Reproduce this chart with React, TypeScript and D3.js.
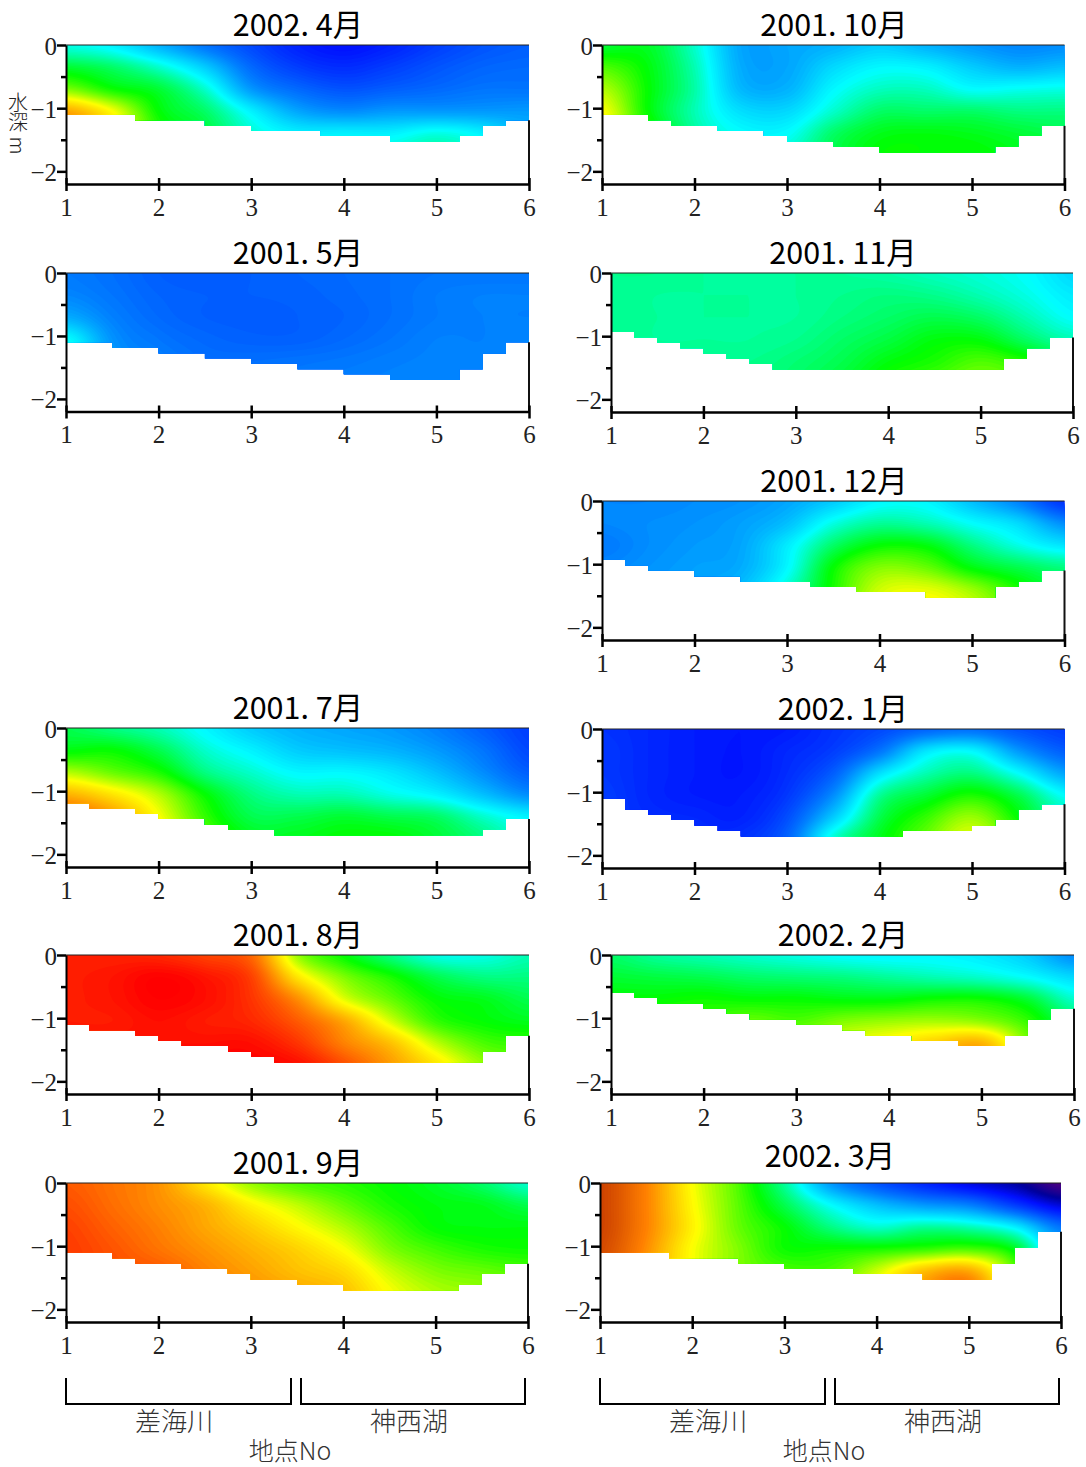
import React, { useEffect, useRef } from 'react';
import * as d3 from 'd3';

// grid positions of the read values
const stations = [1, 1.5, 2, 2.5, 3, 3.5, 4, 4.5, 5, 5.5, 6];
const depths = [0, 0.35, 0.7, 1.05, 1.4, 1.75];
const xTicks = [1, 2, 3, 4, 5, 6];
const yTicks = [0, -0.5, -1, -1.5, -2];

// colour level: 1 blue, 3 cyan, 4 green, 5 yellow, 7 red
const apr2002 = [
  [3.1, 2.9, 2.4, 1.9, 1.5, 1.15, 1.0, 1.15, 1.4, 1.6, 1.7],
  [3.8, 3.6, 3.2, 2.6, 1.8, 1.4, 1.25, 1.4, 1.6, 1.75, 1.8],
  [4.5, 4.05, 3.8, 3.2, 2.2, 1.8, 1.6, 1.7, 1.8, 1.9, 1.9],
  [5.7, 5.0, 4.0, 3.6, 2.9, 2.3, 2.1, 2.2, 2.2, 2.2, 2.2],
  [6.3, 5.3, 4.2, 3.8, 3.2, 2.9, 2.9, 2.9, 3.1, 2.9, 2.4],
  [6.5, 5.5, 4.4, 3.9, 3.4, 3.1, 3.1, 3.2, 3.4, 3.1, 2.5],
];
const may2001 = [
  [1.95, 1.85, 1.7, 1.65, 1.7, 1.75, 1.8, 1.85, 1.9, 1.9, 1.9],
  [2.05, 1.9, 1.75, 1.7, 1.7, 1.72, 1.78, 1.85, 1.95, 2.0, 2.0],
  [2.35, 2.0, 1.8, 1.7, 1.68, 1.7, 1.75, 1.85, 1.95, 2.0, 2.0],
  [3.0, 2.15, 1.9, 1.78, 1.72, 1.72, 1.8, 1.9, 2.0, 2.0, 2.05],
  [3.2, 2.25, 2.0, 1.85, 1.85, 1.88, 1.92, 1.98, 2.02, 2.02, 2.05],
  [3.2, 2.3, 2.0, 1.9, 1.9, 1.92, 1.98, 2.02, 2.05, 2.05, 2.05],
];
const jul2001 = [
  [3.7, 3.5, 3.3, 2.95, 2.6, 2.4, 2.3, 2.2, 2.0, 1.7, 1.4],
  [3.95, 4.0, 3.7, 3.2, 2.9, 2.6, 2.5, 2.4, 2.2, 1.9, 1.5],
  [4.7, 4.4, 4.1, 3.5, 3.2, 2.95, 2.95, 2.8, 2.5, 2.1, 1.7],
  [5.6, 5.2, 4.7, 4.0, 3.5, 3.3, 3.3, 3.1, 2.9, 2.5, 2.1],
  [6.3, 5.8, 5.0, 4.2, 3.7, 3.7, 3.8, 3.7, 3.6, 3.2, 2.9],
  [6.5, 6.0, 5.2, 4.4, 3.9, 3.9, 4.0, 4.0, 3.8, 3.5, 3.1],
];
const aug2001 = [
  [6.75, 6.75, 6.7, 6.5, 6.2, 4.6, 4.0, 3.5, 3.1, 3.1, 3.3],
  [6.78, 6.85, 7.0, 6.85, 6.5, 5.2, 4.5, 4.1, 3.7, 3.5, 3.5],
  [6.78, 6.85, 7.0, 6.9, 6.6, 5.9, 4.9, 4.4, 4.0, 3.9, 3.7],
  [6.8, 6.8, 6.9, 6.8, 6.7, 6.3, 5.7, 4.85, 4.2, 4.0, 3.9],
  [6.85, 6.9, 6.9, 6.9, 6.9, 6.6, 6.0, 5.5, 4.75, 4.3, 4.2],
  [6.9, 7.0, 7.0, 7.0, 7.0, 6.9, 6.4, 5.8, 5.2, 4.6, 4.4],
];
const sep2001 = [
  [6.3, 6.1, 5.85, 5.2, 4.6, 4.3, 4.15, 4.0, 3.85, 3.6, 3.2],
  [6.4, 6.15, 5.9, 5.6, 5.1, 4.75, 4.4, 4.1, 3.95, 3.9, 3.7],
  [6.5, 6.25, 6.0, 5.7, 5.4, 5.05, 4.7, 4.3, 4.0, 3.95, 3.95],
  [6.55, 6.35, 6.1, 5.85, 5.6, 5.35, 5.0, 4.5, 4.25, 4.1, 4.05],
  [6.55, 6.4, 6.3, 6.0, 5.75, 5.5, 5.3, 4.8, 4.5, 4.4, 4.3],
  [6.55, 6.4, 6.3, 6.1, 5.9, 5.7, 5.5, 5.0, 4.7, 4.6, 4.5],
];
const oct2001 = [
  [3.8, 3.85, 3.2, 2.3, 2.3, 2.4, 2.6, 2.4, 2.2, 2.05, 2.1],
  [4.3, 3.95, 3.3, 2.35, 2.3, 2.7, 2.95, 2.9, 2.6, 2.4, 2.5],
  [4.7, 4.0, 3.35, 2.45, 2.4, 2.95, 3.25, 3.25, 3.0, 3.05, 3.1],
  [5.0, 4.0, 3.3, 2.75, 2.7, 3.2, 3.6, 3.6, 3.6, 3.5, 3.5],
  [5.2, 4.2, 3.4, 3.0, 3.0, 3.6, 3.9, 3.95, 3.9, 3.8, 3.7],
  [5.2, 4.2, 3.5, 3.1, 3.2, 3.7, 4.0, 4.0, 4.0, 3.9, 3.8],
];
const nov2001 = [
  [3.45, 3.45, 3.4, 3.4, 3.4, 3.4, 3.35, 3.25, 3.15, 3.0, 2.7],
  [3.45, 3.4, 3.4, 3.4, 3.4, 3.45, 3.5, 3.45, 3.3, 3.1, 2.85],
  [3.45, 3.4, 3.4, 3.4, 3.4, 3.5, 3.6, 3.7, 3.6, 3.3, 3.0],
  [3.45, 3.4, 3.4, 3.4, 3.45, 3.6, 3.75, 3.95, 3.95, 3.6, 3.3],
  [3.5, 3.45, 3.45, 3.45, 3.55, 3.7, 3.95, 4.1, 4.3, 4.1, 3.7],
  [3.5, 3.5, 3.5, 3.5, 3.6, 3.8, 4.1, 4.3, 4.5, 4.3, 3.9],
];
const dec2001 = [
  [2.05, 2.05, 2.1, 2.15, 2.3, 2.6, 2.95, 2.95, 2.5, 2.0, 1.3],
  [2.05, 2.1, 2.15, 2.25, 2.5, 3.1, 3.4, 3.3, 3.0, 2.7, 2.1],
  [1.95, 2.1, 2.2, 2.3, 2.85, 3.6, 4.0, 3.95, 3.5, 3.1, 2.8],
  [2.05, 2.15, 2.25, 2.35, 2.95, 4.0, 4.5, 4.4, 3.95, 3.7, 3.5],
  [2.1, 2.2, 2.3, 2.5, 3.2, 4.1, 4.8, 4.9, 4.6, 4.1, 3.7],
  [2.1, 2.2, 2.4, 2.6, 3.3, 4.3, 4.9, 5.1, 4.8, 4.2, 3.8],
];
const jan2002 = [
  [1.3, 1.2, 1.1, 1.05, 1.1, 1.3, 1.5, 1.75, 1.85, 1.6, 1.4],
  [1.35, 1.2, 1.1, 1.05, 1.2, 1.4, 1.9, 2.8, 2.95, 2.2, 1.7],
  [1.35, 1.2, 1.1, 1.05, 1.25, 1.7, 2.75, 3.3, 3.5, 3.0, 2.3],
  [1.4, 1.2, 1.1, 1.1, 1.35, 2.1, 3.4, 3.8, 4.1, 3.7, 3.0],
  [1.4, 1.25, 1.2, 1.15, 1.55, 2.6, 3.7, 4.2, 4.6, 4.0, 3.3],
  [1.4, 1.3, 1.25, 1.3, 1.75, 3.2, 3.9, 4.4, 4.9, 4.2, 3.4],
];
const feb2002 = [
  [3.6, 3.4, 3.3, 3.2, 3.1, 3.0, 2.95, 2.95, 2.85, 2.6, 2.1],
  [3.8, 3.75, 3.7, 3.6, 3.55, 3.5, 3.4, 3.3, 3.2, 3.0, 2.7],
  [4.0, 4.0, 4.05, 4.0, 4.0, 3.95, 3.95, 4.05, 4.05, 3.8, 3.2],
  [4.2, 4.2, 4.2, 4.4, 4.3, 4.5, 4.6, 4.65, 4.55, 4.2, 3.6],
  [4.4, 4.4, 4.4, 4.6, 4.6, 4.9, 5.1, 5.4, 5.6, 4.5, 3.8],
  [4.4, 4.4, 4.4, 4.6, 4.7, 5.0, 5.2, 5.6, 5.8, 4.6, 3.9],
];
const mar2002 = [
  [6.9, 6.0, 5.0, 4.3, 3.4, 2.2, 1.6, 1.2, 0.85, 0.55, 0.0],
  [6.9, 6.0, 5.05, 4.35, 3.7, 3.0, 2.5, 2.2, 2.0, 1.4, 0.8],
  [6.9, 6.0, 5.1, 4.4, 4.0, 3.5, 3.2, 3.4, 3.3, 2.9, 1.9],
  [6.8, 5.9, 5.0, 4.5, 4.05, 4.05, 4.1, 4.2, 4.3, 3.9, 2.4],
  [6.7, 5.8, 5.0, 4.5, 4.3, 4.3, 4.8, 5.5, 5.7, 4.4, 2.6],
  [6.6, 5.7, 5.0, 4.5, 4.4, 4.5, 5.0, 5.8, 6.2, 4.5, 2.7],
];

// water depth in each quarter-station bin
const bedApr2002 = [1.1, 1.1, 1.1, 1.19, 1.19, 1.19, 1.28, 1.28, 1.36, 1.36, 1.36, 1.44, 1.44, 1.44, 1.53, 1.53, 1.53, 1.44, 1.28, 1.19];
const bedMay2001 = [1.1, 1.1, 1.19, 1.19, 1.28, 1.28, 1.36, 1.36, 1.44, 1.44, 1.53, 1.53, 1.61, 1.61, 1.7, 1.7, 1.7, 1.53, 1.28, 1.1];
const bedJul2001 = [1.19, 1.28, 1.28, 1.36, 1.44, 1.44, 1.53, 1.61, 1.61, 1.7, 1.7, 1.7, 1.7, 1.7, 1.7, 1.7, 1.7, 1.7, 1.61, 1.44];
const bedAug2001 = [1.1, 1.19, 1.19, 1.28, 1.36, 1.44, 1.44, 1.53, 1.61, 1.7, 1.7, 1.7, 1.7, 1.7, 1.7, 1.7, 1.7, 1.7, 1.53, 1.28];
const bedSep2001 = [1.1, 1.1, 1.19, 1.28, 1.28, 1.36, 1.36, 1.44, 1.53, 1.53, 1.61, 1.61, 1.7, 1.7, 1.7, 1.7, 1.7, 1.61, 1.44, 1.28];
const bedOct2001 = [1.1, 1.1, 1.19, 1.28, 1.28, 1.36, 1.36, 1.44, 1.53, 1.53, 1.61, 1.61, 1.7, 1.7, 1.7, 1.7, 1.7, 1.61, 1.44, 1.28];
const bedNov2001 = [0.93, 1.02, 1.1, 1.19, 1.28, 1.36, 1.44, 1.53, 1.53, 1.53, 1.53, 1.53, 1.53, 1.53, 1.53, 1.53, 1.53, 1.36, 1.19, 1.02];
const bedDec2001 = [0.93, 1.02, 1.1, 1.1, 1.19, 1.19, 1.28, 1.28, 1.28, 1.36, 1.36, 1.44, 1.44, 1.44, 1.53, 1.53, 1.53, 1.36, 1.28, 1.1];
const bedJan2002 = [1.1, 1.28, 1.36, 1.44, 1.53, 1.61, 1.7, 1.7, 1.7, 1.7, 1.7, 1.7, 1.7, 1.61, 1.61, 1.61, 1.53, 1.44, 1.28, 1.19];
const bedFeb2002 = [0.6, 0.68, 0.77, 0.77, 0.85, 0.93, 1.02, 1.02, 1.1, 1.1, 1.19, 1.28, 1.28, 1.36, 1.36, 1.44, 1.44, 1.28, 1.02, 0.85];
const bedMar2002 = [1.1, 1.1, 1.1, 1.19, 1.19, 1.19, 1.28, 1.28, 1.36, 1.36, 1.36, 1.44, 1.44, 1.44, 1.53, 1.53, 1.53, 1.28, 1.02, 0.77];

const levelDomain = [0, 0.5, 1, 2, 3, 4, 5, 6, 7];
const levelColors = ['#4b0082', '#00009a', '#0010ff', '#0080ff', '#00ffff', '#00ff00', '#ffff00', '#ff8000', '#ff0000'];
// March tops out in a dark orange, it never passes through the pure red
const marchColors = ['#4b0082', '#00009a', '#0010ff', '#0080ff', '#00ffff', '#00ff00', '#ffff00', '#ff8000', '#c83c00'];

const panels = [
  { title: '2002. 4月', grid: apr2002, bed: bedApr2002, xL: 66, xR: 529, y0: 45, yB: 184, tx: 298, ty: 36 },
  { title: '2001. 5月', grid: may2001, bed: bedMay2001, xL: 66, xR: 529, y0: 273, yB: 411.5, tx: 298, ty: 264 },
  { title: '2001. 7月', grid: jul2001, bed: bedJul2001, xL: 66, xR: 529, y0: 728, yB: 867, tx: 298, ty: 719 },
  { title: '2001. 8月', grid: aug2001, bed: bedAug2001, xL: 66, xR: 529, y0: 955, yB: 1094, tx: 298, ty: 946 },
  { title: '2001. 9月', grid: sep2001, bed: bedSep2001, xL: 66, xR: 528, y0: 1183, yB: 1322, tx: 298, ty: 1174 },
  { title: '2001. 10月', grid: oct2001, bed: bedOct2001, xL: 602, xR: 1064.5, y0: 45, yB: 184, tx: 834, ty: 36 },
  { title: '2001. 11月', grid: nov2001, bed: bedNov2001, xL: 611, xR: 1073, y0: 273, yB: 412, tx: 843, ty: 264 },
  { title: '2001. 12月', grid: dec2001, bed: bedDec2001, xL: 602, xR: 1064.5, y0: 501, yB: 640, tx: 834, ty: 492 },
  { title: '2002. 1月', grid: jan2002, bed: bedJan2002, xL: 602, xR: 1064.5, y0: 729, yB: 868, tx: 843, ty: 720 },
  { title: '2002. 2月', grid: feb2002, bed: bedFeb2002, xL: 611, xR: 1074, y0: 955, yB: 1094, tx: 843, ty: 946 },
  { title: '2002. 3月', grid: mar2002, bed: bedMar2002, xL: 600, xR: 1061, y0: 1183, yB: 1322, tx: 830, ty: 1167, colors: marchColors },
];

const brackets = [
  { label: '差海川', x0: 66, x1: 291, tx: 174 },
  { label: '神西湖', x0: 301, x1: 525, tx: 409 },
  { label: '差海川', x0: 600, x1: 825, tx: 708 },
  { label: '神西湖', x0: 835, x1: 1059, tx: 943 },
];
const xTitles = [290, 824];

const SERIF = '"Liberation Serif", serif';
const CJK = '"Noto Sans CJK JP", sans-serif';

const catmull = (a: number, b: number, c: number, d: number, t: number) =>
  0.5 * (2 * b + (c - a) * t + (2 * a - 5 * b + 4 * c - d) * t * t + (3 * b - a - 3 * c + d) * t * t * t);

// smooth read of the value grid, u = column index, v = row index
const sampleGrid = (grid: number[][], u: number, v: number) => {
  const iu = Math.min(Math.floor(u), grid[0].length - 2);
  const iv = Math.min(Math.floor(v), grid.length - 2);
  const row = (r: number) => {
    const vals = grid[Math.max(0, Math.min(grid.length - 1, r))];
    const at = (c: number) => vals[Math.max(0, Math.min(vals.length - 1, c))];
    return catmull(at(iu - 1), at(iu), at(iu + 1), at(iu + 2), u - iu);
  };
  return catmull(row(iv - 1), row(iv), row(iv + 1), row(iv + 2), v - iv);
};

const App = () => {
  const ref = useRef<SVGSVGElement>(null);

  useEffect(() => {
    const svg = d3.select(ref.current);
    svg.selectAll('*').remove();

    panels.forEach((p, idx) => {
      const color = d3.scaleLinear<string>().domain(levelDomain).range(p.colors || levelColors).clamp(true);
      const x = d3.scaleLinear().domain([1, 6]).range([p.xL, p.xR]);
      const y = d3.scaleLinear().domain([0, -2.2]).range([p.y0, p.yB]);
      const g = svg.append('g');

      // water section outline from the bed bins
      const edges = p.bed.map((d, i) => ({ s: 1 + i * 0.25, d }));
      edges.push({ s: 6, d: p.bed[p.bed.length - 1] });
      const outline = d3.area<{ s: number; d: number }>()
        .x(d => x(d.s))
        .y0(y(0))
        .y1(d => y(-d.d))
        .curve(d3.curveStepAfter);
      const clipId = `water-${idx}`;
      g.append('clipPath').attr('id', clipId).append('path').attr('d', outline(edges));

      // fine field for the filled contours
      const nx = 150;
      const ny = 56;
      const uScale = d3.scaleLinear().domain([0, nx - 1]).range([0, stations.length - 1]);
      const vScale = d3.scaleLinear().domain([0, ny - 1]).range([0, depths.length - 1]);
      const field: number[] = [];
      for (let j = 0; j < ny; j++) {
        for (let i = 0; i < nx; i++) field.push(sampleGrid(p.grid, uScale(i), vScale(j)));
      }
      const step = 0.05;
      const lo = Math.floor((d3.min(field) as number) / step) * step;
      const hi = d3.max(field) as number;
      const contours = d3.contours().size([nx, ny]).smooth(true).thresholds(d3.range(lo, hi, step))(field);
      const gx = d3.scaleLinear().domain([0.5, nx - 0.5]).range([x(1), x(6)]);
      const gy = d3.scaleLinear().domain([0.5, ny - 0.5]).range([y(0), y(-depths[depths.length - 1])]);
      const path = d3.geoPath(d3.geoTransform({
        point(px: number, py: number) {
          this.stream.point(gx(px), gy(py));
        },
      }));
      g.append('g')
        .attr('clip-path', `url(#${clipId})`)
        .selectAll('path')
        .data(contours)
        .enter().append('path')
        .attr('d', path as any)
        .attr('fill', d => color(d.value + step / 2));

      // surface line and right bank
      g.append('line')
        .attr('x1', x(1)).attr('x2', x(6)).attr('y1', y(0)).attr('y2', y(0))
        .attr('stroke', '#222').attr('stroke-width', 1);
      g.append('line')
        .attr('x1', x(6)).attr('x2', x(6)).attr('y1', y(-p.bed[p.bed.length - 1])).attr('y2', p.yB)
        .attr('stroke', '#111').attr('stroke-width', 2);

      const yAxis = g.append('g')
        .attr('transform', `translate(${p.xL},0)`)
        .call(d3.axisLeft(y).tickValues(yTicks).tickSize(9).tickSizeOuter(0).tickPadding(0)
          .tickFormat(d => (Number.isInteger(+d) ? (+d < 0 ? `\u2212${-d}` : `${d}`) : '')));
      yAxis.attr('font-family', SERIF).attr('font-size', 25);
      yAxis.select('.domain').attr('stroke', '#000').attr('stroke-width', 2);
      yAxis.selectAll('.tick line')
        .attr('stroke', '#000').attr('stroke-width', 2.5)
        .attr('x2', d => (Number.isInteger(d as number) ? -9 : -5));
      yAxis.selectAll('.tick text').attr('fill', '#222').attr('dy', '0.36em');

      const xAxis = g.append('g')
        .attr('transform', `translate(0,${p.yB})`)
        .call(d3.axisBottom(x).tickValues(xTicks).tickSize(7).tickSizeOuter(0).tickPadding(7).tickFormat(d3.format('d')));
      xAxis.attr('font-family', SERIF).attr('font-size', 25);
      xAxis.select('.domain').attr('stroke', '#000').attr('stroke-width', 2.5);
      xAxis.selectAll('.tick line').attr('stroke', '#000').attr('stroke-width', 2.5).attr('y1', -6);
      xAxis.selectAll('.tick text').attr('fill', '#222');

      g.append('text')
        .attr('x', p.tx).attr('y', p.ty)
        .attr('text-anchor', 'middle')
        .attr('font-family', CJK).attr('font-size', 30.5).attr('fill', '#000')
        .text(p.title);
    });

    // station groups
    brackets.forEach(b => {
      svg.append('path')
        .attr('d', d3.line()([[b.x0, 1378], [b.x0, 1404], [b.x1, 1404], [b.x1, 1378]]))
        .attr('fill', 'none').attr('stroke', '#000').attr('stroke-width', 2);
      svg.append('text')
        .attr('x', b.tx).attr('y', 1431)
        .attr('text-anchor', 'middle')
        .attr('font-family', CJK).attr('font-size', 26).attr('font-weight', 300).attr('fill', '#333')
        .text(b.label);
    });
    xTitles.forEach(tx => {
      svg.append('text')
        .attr('x', tx).attr('y', 1460)
        .attr('text-anchor', 'middle')
        .attr('font-family', CJK).attr('font-size', 25).attr('font-weight', 300).attr('fill', '#333')
        .text('地点No');
    });

    svg.append('text')
      .attr('x', 18).attr('y', 92)
      .attr('font-family', CJK).attr('font-size', 20).attr('font-weight', 300).attr('fill', '#222')
      .style('writing-mode', 'vertical-rl')
      .text('水深 m');
  }, []);

  return (
    <svg
      ref={ref}
      width={1086}
      height={1467}
      style={{ position: 'absolute', left: 0, top: 0, background: '#fff' }}
    />
  );
};

export default App;
